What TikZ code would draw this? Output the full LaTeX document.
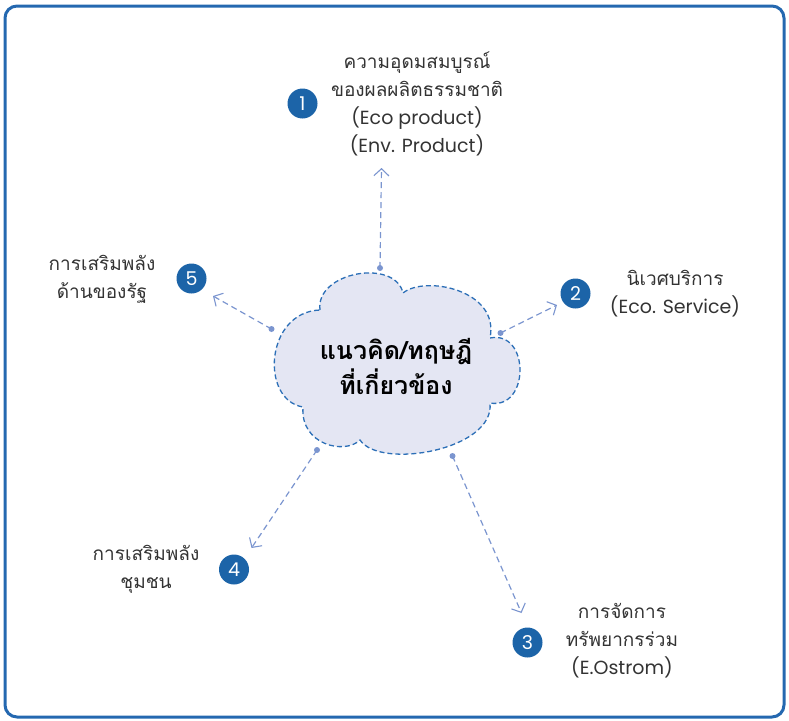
\documentclass[tikz,border=0pt]{standalone}
\usepackage{fontspec}
\setmainfont[Script=Thai]{Loma}
\newfontfamily\latinfont{Poppins}
\usetikzlibrary{arrows.meta}
\definecolor{frameblue}{HTML}{2468B0}
\definecolor{numblue}{HTML}{1C64A8}
\definecolor{linkblue}{HTML}{7B95CF}
\definecolor{cloudfill}{HTML}{E4E6F3}
\definecolor{cloudline}{HTML}{2C6FB7}
\definecolor{txt}{HTML}{333333}
\newcommand{\lat}[1]{{\latinfont\fontsize{19}{28}\selectfont #1}}
\begin{document}
\begin{tikzpicture}[x=1pt,y=-1pt,
 num/.style={circle,fill=numblue,text=white,minimum size=30pt,inner sep=0pt,font=\latinfont\fontsize{19}{19}\selectfont},
 lbl/.style={text=txt,align=center,font=\fontsize{19}{28}\selectfont},
 link/.style={draw=linkblue,line width=1.2pt,dash pattern=on 6pt off 4pt,-{Straight Barb[length=7pt,width=15pt,line width=1.1pt]}},
 dotc/.style={circle,fill=linkblue,inner sep=0pt,minimum size=6pt},
 cloudsty/.style={fill=cloudfill,draw=cloudline,line width=1.3pt,dash pattern=on 5pt off 3pt}]
\useasboundingbox (0,0) rectangle (789,720);
\draw[frameblue,line width=3pt,rounded corners=12pt] (5,6) rectangle (784,717);
% cloud
\path[cloudsty] (320,310) .. controls (315,272) and (395,258) .. (403,293)
  .. controls (425,275) and (500,290) .. (490,338)
  .. controls (530,330) and (530,410) .. (490,403)
  .. controls (495,450) and (380,470) .. (360,440)
  .. controls (345,455) and (300,445) .. (303,407)
  .. controls (260,400) and (265,312) .. cycle;
\node[font=\fontsize{25}{35}\selectfont\bfseries,align=center,text=black] (c) at (396,366) {แนวคิด/ทฤษฎี\\ที่เกี่ยวข้อง};
% dots
\node[dotc] (d1) at (380,268) {};
\node[dotc] (d2) at (500.5,333) {};
\node[dotc] (d3) at (452.5,456) {};
\node[dotc] (d4) at (317,450) {};
\node[dotc] (d5) at (271.5,329) {};
% tips
\coordinate (t1) at (381.5,168);
\coordinate (t2) at (557,305);
\coordinate (t3) at (521.5,613);
\coordinate (t4) at (251.5,548);
\coordinate (t5) at (213,296);
\draw[link] (d1.center) -- (t1);
\draw[link] (d2.center) -- (t2);
\draw[link] (d3.center) -- (t3);
\draw[link] (d4.center) -- (t4);
\draw[link] (d5.center) -- (t5);
% numbers
\node[num] (n1) at (302.5,103.5) {1};
\node[num] (n2) at (575.5,293.5) {2};
\node[num] (n3) at (527.5,642.5) {3};
\node[num] (n4) at (234,569.5) {4};
\node[num] (n5) at (191.5,278.5) {5};
% labels
\node[lbl] (l1) at (417,104) {ความอุดมสมบูรณ์\\ของผลผลิตธรรมชาติ\\\lat{(Eco product)}\\\lat{(Env. Product)}};
\node[lbl] (l2) at (675,294) {นิเวศบริการ\\\lat{(Eco. Service)}};
\node[lbl] (l3) at (622,641) {การจัดการ\\ทรัพยากรร่วม\\\lat{(E.Ostrom)}};
\node[lbl] (l4) at (146,569) {การเสริมพลัง\\ชุมชน};
\node[lbl] (l5) at (102,279) {การเสริมพลัง\\ด้านของรัฐ};
\end{tikzpicture}
\end{document}
